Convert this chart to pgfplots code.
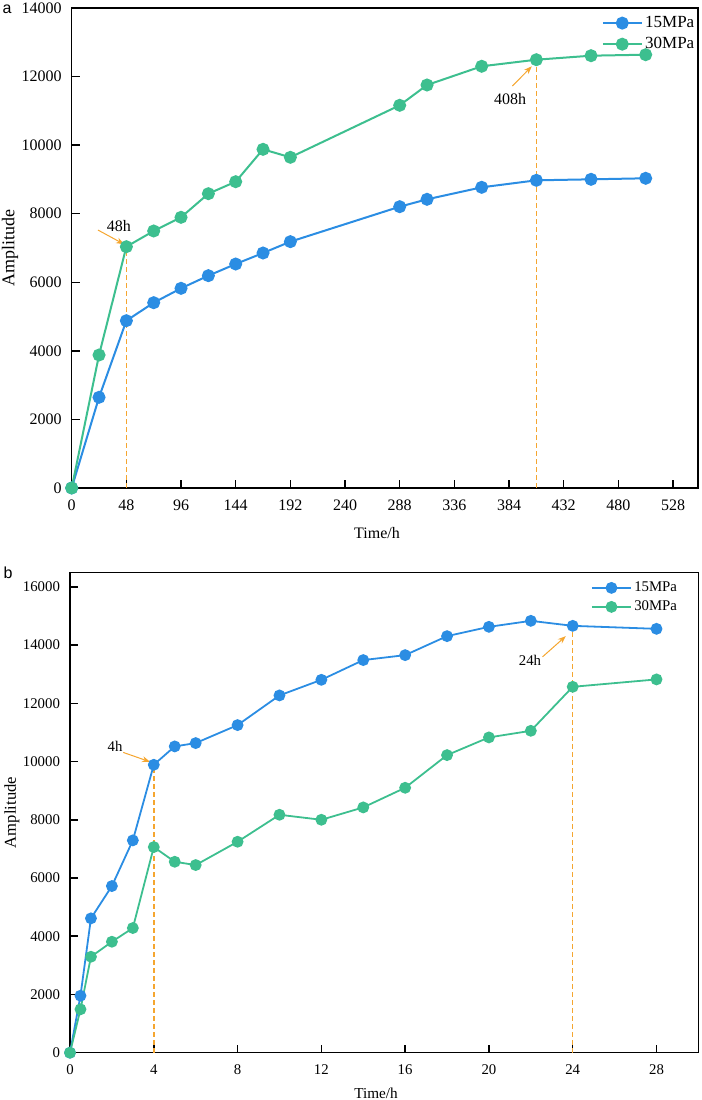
\documentclass[border=0pt]{standalone}
\usepackage{fontspec}
\setmainfont{Liberation Serif}
\newfontfamily\panelfont{Liberation Sans}
\usepackage{pgfplots}
\pgfplotsset{compat=1.18}
\usetikzlibrary{arrows.meta}

\definecolor{cblue}{HTML}{2B8DE3}
\definecolor{cgreen}{HTML}{3DBF8F}
\definecolor{corange}{HTML}{F5A630}

\tikzset{
  pointer/.style={color=corange, line width=0.5pt, -{Stealth[length=4pt, width=3pt]}},
}

\pgfplotsset{
  panel/.style={
    scale only axis,
    clip=false,
    axis line style={line width=0.75pt},
    tick style={line width=0.75pt, black},
    tick align=inside,
    xtick pos=left, ytick pos=left,
    major tick length=4pt,
    /pgf/number format/assume math mode=true,
    scaled y ticks=false,
    yticklabel style={/pgf/number format/fixed, /pgf/number format/1000 sep={}},
    legend style={draw=none, fill=none, legend cell align=left,
      nodes={inner sep=1.2pt}},
    legend image code/.code={
      \draw[mark repeat=2, mark phase=2]
        plot coordinates {(0pt,0pt) (9.75pt,0pt) (19.5pt,0pt)};},
  },
  s15/.style={color=cblue, line width=1pt, mark=*, mark size=2.75pt,
    mark options={fill=cblue, draw=cblue}},
  s30/.style={color=cgreen, line width=1pt, mark=*, mark size=2.75pt,
    mark options={fill=cgreen, draw=cgreen}},
  guide/.style={color=corange, line width=0.55pt, dash pattern=on 2.5pt off 1.5pt, forget plot},
}

\begin{document}
\begin{tikzpicture}
\path[use as bounding box] (0,0) rectangle (351pt,550pt);

% Panel a: long-term test
\begin{axis}[panel,
  at={(35.85pt,306pt)}, anchor=south west,
  width=313.2pt, height=240pt,
  xmin=0, xmax=550, ymin=0, ymax=14000,
  xtick={0,48,...,528}, ytick={0,2000,...,14000},
  tick label style={font=\fontsize{8}{9.6}\selectfont},
  xticklabel style={yshift=-2.5pt},
  yticklabel style={xshift=-1.5pt},
  xlabel={Time/h}, ylabel={Amplitude},
  xlabel style={font=\fontsize{8}{9.6}\selectfont,
    at={(axis description cs:0.4875,-0.094)}, anchor=center},
  ylabel style={font=\fontsize{9}{10.8}\selectfont,
    at={(axis description cs:-0.0985,0.5)}, anchor=center},
  legend style={at={(axis description cs:1.008,0.9975)}, anchor=north east,
    font=\fontsize{8.5}{10}\selectfont, row sep=1pt},
]
\addplot[guide] coordinates {(48,0) (48,7038)};
\addplot[guide] coordinates {(408,0) (408,12492)};
\addplot[s15] coordinates {
  (0,0) (24,2645) (48,4880) (72,5405) (96,5824) (120,6193) (144,6533)
  (168,6854) (192,7185) (288,8205) (312,8420) (360,8770) (408,8974)
  (456,9003) (504,9033)};
\addlegendentry{15MPa}
\addplot[s30] coordinates {
  (0,0) (24,3879) (48,7038) (72,7496) (96,7895) (120,8584) (144,8934)
  (168,9878) (192,9645) (288,11162) (312,11754) (360,12300) (408,12492)
  (456,12609) (504,12638)};
\addlegendentry{30MPa}
\draw[pointer] (axis cs:23,7525) -- (axis cs:46,7110);
\node[font=\fontsize{8}{9.6}\selectfont] at (axis cs:41.5,7642) {48h};
\draw[pointer] (axis cs:387,11725) -- (axis cs:404,12300);
\node[font=\fontsize{8}{9.6}\selectfont] at (axis cs:385,11346) {408h};
\node[font=\panelfont\fontsize{8}{9.6}\selectfont] at (axis description cs:-0.103,0.998) {a};
\end{axis}

% Panel b: short-term test
\begin{axis}[panel,
  at={(35pt,23.65pt)}, anchor=south west,
  width=314.2pt, height=240.2pt,
  xmin=0, xmax=30, ymin=0, ymax=16500,
  xtick={0,4,...,28}, ytick={0,2000,...,16000},
  tick label style={font=\fontsize{7.4}{9}\selectfont},
  xticklabel style={yshift=-2.5pt},
  yticklabel style={xshift=-1.5pt},
  xlabel={Time/h}, ylabel={Amplitude},
  xlabel style={font=\fontsize{7.6}{9}\selectfont,
    at={(axis description cs:0.487,-0.0839)}, anchor=center},
  ylabel style={font=\fontsize{8.3}{10}\selectfont,
    at={(axis description cs:-0.0923,0.5)}, anchor=center},
  legend style={at={(axis description cs:0.98,0.995)}, anchor=north east,
    font=\fontsize{7.4}{9}\selectfont, row sep=0.7pt},
  s15/.append style={mark size=2.5pt, line width=0.9pt},
  s30/.append style={mark size=2.5pt, line width=0.9pt},
]
\addplot[guide, line width=0.8pt] coordinates {(4,0) (4,9889)};
\addplot[guide, line width=0.6pt] coordinates {(24,0) (24,14661)};
\addplot[s15] coordinates {
  (0,0) (0.5,1957) (1,4614) (2,5724) (3,7293) (4,9889) (5,10520) (6,10634)
  (8,11252) (10,12271) (12,12807) (14,13485) (16,13655) (18,14307)
  (20,14627) (22,14833) (24,14661) (28,14558)};
\addlegendentry{15MPa}
\addplot[s30] coordinates {
  (0,0) (0.5,1490) (1,3296) (2,3811) (3,4282) (4,7063) (5,6558) (6,6445)
  (8,7245) (10,8172) (12,8000) (14,8425) (16,9099) (18,10221)
  (20,10829) (22,11056) (24,12567) (28,12821)};
\addlegendentry{30MPa}
\draw[pointer] (axis cs:2.54,10314) -- (axis cs:3.82,9991);
\node[font=\fontsize{7.4}{9}\selectfont] at (axis cs:2.15,10506) {4h};
\draw[pointer] (axis cs:22.56,13597) -- (axis cs:23.67,14307);
\node[font=\fontsize{7.4}{9}\selectfont] at (axis cs:21.96,13485) {24h};
\node[font=\panelfont\fontsize{8}{9.6}\selectfont] at (axis description cs:-0.0987,0.9985) {b};
\end{axis}
\end{tikzpicture}
\end{document}
